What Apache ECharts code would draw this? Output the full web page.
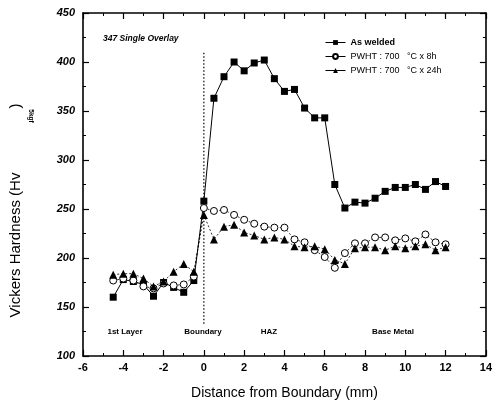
<!DOCTYPE html>
<html><head><meta charset="utf-8">
<script src="https://cdn.jsdelivr.net/npm/echarts@6/dist/echarts.min.js"></script>
<style>html,body{margin:0;padding:0;background:#fff}#c{width:495px;height:408px}</style>
</head><body><div id="c"></div>
<script>
const distance = [-4.5,-4,-3.5,-3,-2.5,-2,-1.5,-1,-0.5,0,0.5,1,1.5,2,2.5,3,3.5,4,4.5,5,5.5,6,6.5,7,7.5,8,8.5,9,9.5,10,10.5,11,11.5,12];
const asWelded = [160,178,176,173,161,175,170,165,177,258,363,385,400,391,399,402,383,370,372,353,343,343,275,251,257,256,261,268,272,272,275,270,278,273];
const pwht8h   = [177,179,177,171,169,174,172,173,181,251,248,249,244,239,235,232,231,231,219,216,208,201,190,205,215,215,221,221,218,220,217,224,216,214];
const pwht24h  = [183,184,184,179,171,176,186,194,186,244,219,232,234,226,223,219,221,219,212,211,212,209,198,194,210,211,211,208,212,210,212,214,208,211];
const boundaryX = [0, 0];
const boundaryY = [133, 410];
const seriesNames = ['As welded', 'PWHT : 700   \u00b0C x 8h', 'PWHT : 700   \u00b0C x 24h'];
const regionLabels = ['1st Layer', 'Boundary', 'HAZ', 'Base Metal'];
const noteText = '347 Single Overlay';
const xTitle = 'Distance from Boundary (mm)';
const yTitle = 'Vickers Hardness (Hv';
const ySub = '5kgf';

function pairs(xs, ys) { return xs.map((x, i) => [x, ys[i]]); }

const FONT = '"Liberation Sans", Arial, sans-serif';
const axisCommon = {
  type: 'value',
  axisLine: { show: true, onZero: false, lineStyle: { color: '#000', width: 1.6 } },
  axisTick: { show: true, inside: true, length: 6, lineStyle: { color: '#000', width: 1.2 } },
  minorTick: { show: true, splitNumber: 2, length: 3, lineStyle: { color: '#000', width: 1 } },
  splitLine: { show: false }
};

const chart = echarts.init(document.getElementById('c'), null, { renderer: 'canvas' });
chart.setOption({
  animation: false,
  backgroundColor: '#fff',
  grid: { left: 83, right: 5, top: 13, bottom: 52 },
  legend: {
    orient: 'vertical', left: 320, top: 33, itemWidth: 20, itemHeight: 6, itemGap: 5,
    data: seriesNames,
    lineStyle: { type: 'solid', width: 1 },
    textStyle: { color: '#000', fontSize: 9, fontFamily: FONT,
      rich: { b: { fontWeight: 'bold', fontSize: 9, fontFamily: FONT, color: '#000' } } },
    formatter: n => n === seriesNames[0] ? '{b|' + n + '}' : n
  },
  xAxis: [
    Object.assign({}, axisCommon, { position: 'bottom', min: -6, max: 14, interval: 2,
      axisLabel: { color: '#000', fontSize: 11, fontWeight: 'bold', fontFamily: FONT, margin: 6 },
      name: xTitle, nameLocation: 'middle', nameGap: 30,
      nameTextStyle: { color: '#000', fontSize: 14, fontFamily: FONT } }),
    Object.assign({}, axisCommon, { position: 'top', min: -6, max: 14, interval: 2, axisLabel: { show: false } })
  ],
  yAxis: [
    Object.assign({}, axisCommon, { position: 'left', min: 100, max: 450, interval: 50,
      axisLabel: { color: '#000', fontSize: 11, fontWeight: 'bold', fontStyle: 'italic', fontFamily: FONT, margin: 8 } }),
    Object.assign({}, axisCommon, { position: 'right', min: 100, max: 450, interval: 50, axisLabel: { show: false } })
  ],
  graphic: [
    { type: 'text', left: 103, top: 34, style: { text: noteText, fill: '#000', font: 'italic bold 8.5px ' + FONT } },
    { type: 'text', x: 125, y: 332, style: { text: regionLabels[0], fill: '#000', font: 'bold 8px ' + FONT, textAlign: 'center', textVerticalAlign: 'middle' } },
    { type: 'text', x: 203, y: 332, style: { text: regionLabels[1], fill: '#000', font: 'bold 8px ' + FONT, textAlign: 'center', textVerticalAlign: 'middle' } },
    { type: 'text', x: 269, y: 332, style: { text: regionLabels[2], fill: '#000', font: 'bold 8px ' + FONT, textAlign: 'center', textVerticalAlign: 'middle' } },
    { type: 'text', x: 393, y: 332, style: { text: regionLabels[3], fill: '#000', font: 'bold 8px ' + FONT, textAlign: 'center', textVerticalAlign: 'middle' } },
    { type: 'text', x: 16, y: 245, rotation: Math.PI / 2, style: { text: yTitle, fill: '#000', font: '15px ' + FONT, textAlign: 'center', textVerticalAlign: 'middle' } },
    { type: 'text', x: 16, y: 106, rotation: Math.PI / 2, style: { text: ')', fill: '#000', font: '15px ' + FONT, textAlign: 'center', textVerticalAlign: 'middle' } },
    { type: 'text', x: 31, y: 116, rotation: -Math.PI / 2, style: { text: ySub, fill: '#000', font: 'bold 6.5px ' + FONT, textAlign: 'center', textVerticalAlign: 'middle' } }
  ],
  series: [
    { name: 'boundary', type: 'line', data: pairs(boundaryX, boundaryY), symbol: 'none', silent: true,
      lineStyle: { color: '#000', width: 1.2, type: [1.5, 2] }, z: 1 },
    { name: seriesNames[0], type: 'line', data: pairs(distance, asWelded), symbol: 'rect', symbolSize: 7,
      itemStyle: { color: '#000' }, lineStyle: { color: '#000', width: 1 }, z: 3 },
    { name: seriesNames[1], type: 'line', data: pairs(distance, pwht8h), symbol: 'circle', symbolSize: 7,
      itemStyle: { color: '#fff', borderColor: '#000', borderWidth: 1 }, lineStyle: { color: '#000', width: 0.8, type: [2, 2] }, z: 4 },
    { name: seriesNames[2], type: 'line', data: pairs(distance, pwht24h), symbol: 'triangle', symbolSize: 8,
      itemStyle: { color: '#000' }, lineStyle: { color: '#000', width: 0.8, type: [2, 2] }, z: 5 }
  ]
});
</script></body></html>
